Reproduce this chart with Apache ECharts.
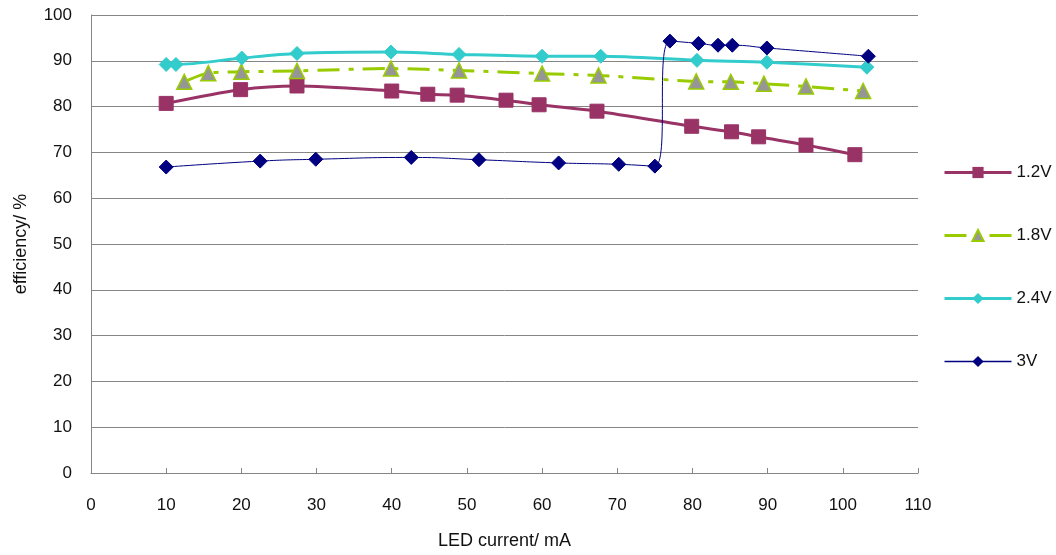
<!DOCTYPE html>
<html>
<head>
<meta charset="utf-8">
<script src="https://cdn.jsdelivr.net/npm/echarts@6/dist/echarts.min.js"></script>
<style>
html,body{margin:0;padding:0;background:#fff;}
#chart{width:1056px;height:555px;}
</style>
</head>
<body>
<div id="chart"></div>
<script>
var seriesNames = ['1.2V', '1.8V', '2.4V', '3V'];
var xTicks = [0, 10, 20, 30, 40, 50, 60, 70, 80, 90, 100, 110];
var yTicks = [0, 10, 20, 30, 40, 50, 60, 70, 80, 90, 100];

var v12x = [10.0, 19.9, 27.4, 40.0, 44.8, 48.7, 55.2, 59.6, 67.3, 79.9, 85.2, 88.8, 95.1, 101.6];
var v12y = [80.7, 83.7, 84.5, 83.4, 82.7, 82.5, 81.4, 80.4, 79.0, 75.7, 74.5, 73.4, 71.6, 69.5];

var v18x = [12.4, 15.6, 20.0, 27.4, 39.9, 48.95, 60.0, 67.5, 80.5, 85.1, 89.5, 95.1, 102.7];
var v18y = [85.4, 87.3, 87.6, 87.8, 88.3, 87.9, 87.2, 86.8, 85.5, 85.4, 85.0, 84.4, 83.4];

var v24x = [10.0, 11.3, 20.05, 27.4, 39.9, 48.95, 60.0, 67.8, 80.6, 89.9, 103.2];
var v24y = [89.2, 89.2, 90.6, 91.6, 91.9, 91.4, 91.0, 91.0, 90.1, 89.7, 88.6];

var v3x = [10.0, 22.5, 29.9, 42.6, 51.6, 62.2, 70.2, 75.0, 77.0, 80.8, 83.4, 85.3, 89.9, 103.4];
var v3y = [66.8, 68.1, 68.5, 68.9, 68.4, 67.7, 67.4, 67.0, 94.3, 93.8, 93.4, 93.4, 92.8, 91.0];

function pairs(xs, ys) { return xs.map(function (x, i) { return [x, ys[i]]; }); }

var chart = echarts.init(document.getElementById('chart'), null, {renderer: 'canvas'});
var font = 'Liberation Sans, Arial, sans-serif';
chart.setOption({
  animation: false,
  backgroundColor: '#ffffff',
  textStyle: {fontFamily: font},
  grid: {left: 91, right: 138, top: 15, bottom: 82, containLabel: false},
  legend: {
    orient: 'vertical',
    left: 938,
    top: 159,
    itemGap: 46,
    itemWidth: 67,
    itemHeight: 14,
    data: [
      {name: seriesNames[0], lineStyle: {color: '#993366', width: 3}},
      {name: seriesNames[1], lineStyle: {color: '#99CC00', width: 3, type: [22, 9, 5, 9]}},
      {name: seriesNames[2], lineStyle: {color: '#33CCCC', width: 3}},
      {name: seriesNames[3], lineStyle: {color: '#000080', width: 1.3}}
    ],
    textStyle: {fontSize: 17, color: '#111', fontFamily: font}
  },
  xAxis: {
    type: 'value',
    min: xTicks[0],
    max: xTicks[xTicks.length - 1],
    interval: 10,
    name: 'LED current/ mA',
    nameLocation: 'middle',
    nameGap: 59,
    nameTextStyle: {fontSize: 18, color: '#111', fontFamily: font},
    axisLine: {lineStyle: {color: '#868686', width: 1}},
    axisTick: {show: true, inside: true, length: 5, lineStyle: {color: '#868686'}},
    axisLabel: {fontSize: 17, color: '#111', margin: 24, fontFamily: font},
    splitLine: {show: false}
  },
  yAxis: {
    type: 'value',
    min: yTicks[0],
    max: yTicks[yTicks.length - 1],
    interval: 10,
    name: 'efficiency/ %',
    nameLocation: 'middle',
    nameGap: 61,
    nameTextStyle: {fontSize: 18, color: '#111', fontFamily: font},
    axisLine: {show: true, lineStyle: {color: '#868686', width: 1}},
    axisTick: {show: false},
    axisLabel: {fontSize: 17, color: '#111', margin: 19, fontFamily: font},
    splitLine: {show: true, lineStyle: {color: '#868686', width: 1}}
  },
  series: [
    {
      name: '1.2V', type: 'line', smooth: 0.3, data: pairs(v12x, v12y),
      symbol: 'rect', symbolSize: 14,
      lineStyle: {color: '#993366', width: 3},
      itemStyle: {color: '#993366', borderColor: '#993366'}
    },
    {
      name: '1.8V', type: 'line', smooth: 0.3, data: pairs(v18x, v18y),
      symbol: 'triangle', symbolSize: 15,
      lineStyle: {color: '#99CC00', width: 3, type: [22, 9, 5, 9]},
      itemStyle: {color: '#969696', borderColor: '#99CC00', borderWidth: 1.5}
    },
    {
      name: '2.4V', type: 'line', smooth: 0.3, data: pairs(v24x, v24y),
      symbol: 'diamond', symbolSize: 14,
      lineStyle: {color: '#33CCCC', width: 3},
      itemStyle: {color: '#33CCCC', borderColor: '#33CCCC'}
    },
    {
      name: '3V', type: 'line', smooth: 0.5, data: pairs(v3x, v3y),
      symbol: 'diamond', symbolSize: 14,
      lineStyle: {color: '#000080', width: 1},
      itemStyle: {color: '#000080', borderColor: '#000080'}
    }
  ]
});
</script>
</body>
</html>
